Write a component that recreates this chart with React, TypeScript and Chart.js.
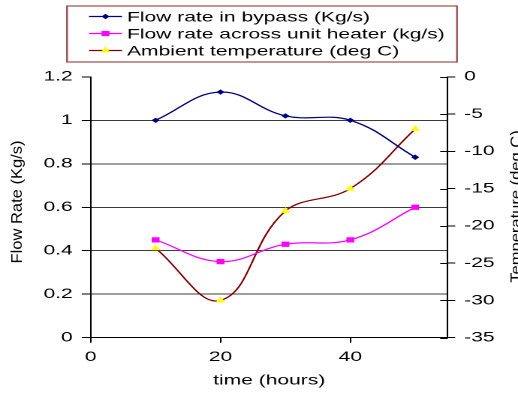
import React, { useEffect, useRef } from 'react';
import { Chart, registerables } from 'chart.js';

Chart.register(...registerables);

// ---- data ----
const times = [10, 20, 30, 40, 50];
const bypassFlow = [1.0, 1.13, 1.02, 1.0, 0.83];
const heaterFlow = [0.45, 0.35, 0.43, 0.45, 0.6];
const ambientTemp = [-23, -30, -18, -15, -7];
const seriesLabels = [
  'Flow rate in bypass (Kg/s)',
  'Flow rate across unit heater (kg/s)',
  'Ambient temperature (deg C)',
];
const xTicks = [0, 20, 40];
const flowTicks = [0, 0.2, 0.4, 0.6, 0.8, 1, 1.2];
const tempTicks = [-35, -30, -25, -20, -15, -10, -5, 0];
const xTitle = 'time (hours)';
const leftTitle = 'Flow Rate (Kg/s)';
const rightTitle = 'Temperature (deg C)';

// ---- layout / style ----
const W = 345;
const H = 397;
const SX = 518 / W; // horizontal stretch of the reference picture
const FONT = '"Liberation Sans", Arial, Helvetica, sans-serif';

function drawMarker(ctx: CanvasRenderingContext2D, style: string, x: number, y: number, r: number, color: string) {
  ctx.beginPath();
  if (style === 'rectRot') {
    ctx.moveTo(x - r, y);
    ctx.lineTo(x, y - r);
    ctx.lineTo(x + r, y);
    ctx.lineTo(x, y + r);
  } else if (style === 'rect') {
    const s = Math.SQRT1_2 * r;
    ctx.rect(x - s, y - s, 2 * s, 2 * s);
  } else {
    ctx.moveTo(x, y - r);
    ctx.lineTo(x + 0.866 * r, y + 0.5 * r);
    ctx.lineTo(x - 0.866 * r, y + 0.5 * r);
  }
  ctx.closePath();
  ctx.fillStyle = color;
  ctx.fill();
}

const overlayPlugin = {
  id: 'overlay',
  afterDraw(chart: any) {
    const ctx: CanvasRenderingContext2D = chart.ctx;
    const ca = chart.chartArea;
    ctx.save();
    // inner half of the right-axis tick marks
    const y1 = chart.scales.y1;
    ctx.strokeStyle = '#000';
    ctx.lineWidth = 1;
    y1.ticks.forEach((t: any) => {
      const py = Math.round(y1.getPixelForValue(t.value)) + 0.5;
      ctx.beginPath();
      ctx.moveTo(ca.right - 5, py);
      ctx.lineTo(ca.right, py);
      ctx.stroke();
    });
    // legend box
    const lx = 67 / SX;
    const rx = 457 / SX;
    ctx.strokeStyle = '#a24d4d';
    ctx.lineWidth = 1.2;
    ctx.strokeRect(lx, 6, rx - lx, 56);
    chart.data.datasets.forEach((ds: any, i: number) => {
      const y = 16.5 + i * 17;
      const x0 = 89 / SX;
      const x1 = 122 / SX;
      ctx.strokeStyle = ds.borderColor;
      ctx.lineWidth = 1.3;
      ctx.beginPath();
      ctx.moveTo(x0, y);
      ctx.lineTo(x1, y);
      ctx.stroke();
      drawMarker(ctx, ds.pointStyle, (x0 + x1) / 2, y, ds.pointRadius, ds.pointBackgroundColor);
      ctx.fillStyle = '#000';
      ctx.font = `14px ${FONT}`;
      ctx.textAlign = 'left';
      ctx.textBaseline = 'middle';
      ctx.fillText(ds.label, 127 / SX, y + 1);
    });
    // rotated axis titles
    ctx.font = `10px ${FONT}`;
    ctx.fillStyle = '#000';
    ctx.textAlign = 'center';
    ctx.textBaseline = 'middle';
    const k = 123 / ctx.measureText(leftTitle).width;
    const rot = (text: string, cx: number, cy: number) => {
      ctx.save();
      ctx.translate(cx, cy);
      ctx.rotate(-Math.PI / 2);
      ctx.scale(k, 1);
      ctx.fillText(text, 0, 0);
      ctx.restore();
    };
    rot(leftTitle, 17.5 / SX, 202);
    rot(rightTitle, 516.5 / SX, 206.5);
    ctx.restore();
  },
};

export default function App() {
  const ref = useRef<HTMLCanvasElement>(null);

  useEffect(() => {
    const canvas = ref.current;
    if (!canvas) return;
    const tickFont = { family: FONT, size: 14 };
    const chart = new Chart(canvas, {
      type: 'line',
      data: {
        datasets: [
          {
            label: seriesLabels[0],
            data: times.map((t, i) => ({ x: t, y: bypassFlow[i] })),
            yAxisID: 'y',
            borderColor: '#000080',
            backgroundColor: '#000080',
            borderWidth: 1.2,
            pointStyle: 'rectRot',
            pointRadius: 2.7,
            pointBorderWidth: 0,
            pointBackgroundColor: '#000080',
            tension: 0.4,
          },
          {
            label: seriesLabels[1],
            data: times.map((t, i) => ({ x: t, y: heaterFlow[i] })),
            yAxisID: 'y',
            borderColor: '#ff00ff',
            backgroundColor: '#ff00ff',
            borderWidth: 1.2,
            pointStyle: 'rect',
            pointRadius: 3.7,
            pointBorderWidth: 0,
            pointBackgroundColor: '#ff00ff',
            tension: 0.4,
          },
          {
            label: seriesLabels[2],
            data: times.map((t, i) => ({ x: t, y: ambientTemp[i] })),
            yAxisID: 'y1',
            borderColor: '#800000',
            backgroundColor: '#ffff00',
            borderWidth: 1.2,
            pointStyle: 'triangle',
            pointRadius: 3.8,
            pointBorderWidth: 0,
            pointBackgroundColor: '#ffff00',
            tension: 0.4,
          },
        ],
      },
      options: {
        responsive: false,
        devicePixelRatio: 2,
        animation: false,
        events: [],
        layout: { padding: { top: 76.8, left: 0, right: 0, bottom: 0 } },
        plugins: {
          legend: { display: false },
          tooltip: { enabled: false },
        },
        scales: {
          x: {
            type: 'linear',
            position: 'bottom',
            min: 0,
            max: 55,
            afterBuildTicks: (s: any) => {
              s.ticks = xTicks.map((v) => ({ value: v }));
            },
            afterFit: (s: any) => {
              s.height = H - 337.7;
            },
            grid: { drawOnChartArea: false, drawTicks: true, tickLength: 5, color: '#000' },
            border: { color: '#000', width: 1 },
            ticks: { color: '#000', font: tickFont, padding: 6, maxRotation: 0, autoSkip: false },
            title: {
              display: true,
              text: xTitle,
              color: '#000',
              font: tickFont,
              padding: { top: 0, bottom: 8 },
            },
          },
          y: {
            type: 'linear',
            position: 'left',
            min: 0,
            max: 1.2,
            afterBuildTicks: (s: any) => {
              s.ticks = flowTicks.map((v) => ({ value: v }));
            },
            afterFit: (s: any) => {
              s.width = 90.7 / SX;
            },
            grid: {
              color: (c: any) => (c.tick && c.tick.value >= 1.19 ? 'rgba(0,0,0,0)' : '#3c3c3c'),
              tickColor: '#000',
              tickLength: 6,
            },
            border: { color: '#000', width: 1 },
            ticks: {
              color: '#000',
              font: tickFont,
              padding: 6,
              autoSkip: false,
              callback: (v: any) => String(Number(Number(v).toFixed(1))),
            },
          },
          y1: {
            type: 'linear',
            position: 'right',
            min: -35,
            max: 0,
            afterBuildTicks: (s: any) => {
              s.ticks = tempTicks.map((v) => ({ value: v }));
            },
            afterFit: (s: any) => {
              s.width = W - 447.7 / SX;
            },
            grid: { drawOnChartArea: false, tickLength: 5, color: '#000' },
            border: { color: '#000', width: 1 },
            ticks: { color: '#000', font: tickFont, padding: 6, autoSkip: false },
          },
        },
      } as any,
      plugins: [overlayPlugin],
    });
    return () => chart.destroy();
  }, []);

  return (
    <div
      style={{
        position: 'fixed',
        left: 0,
        top: 0,
        width: 518,
        height: 397,
        overflow: 'hidden',
        background: '#fff',
      }}
    >
      <div style={{ width: W, height: H, transform: `scaleX(${SX})`, transformOrigin: '0 0' }}>
        <canvas ref={ref} width={W} height={H} style={{ width: `${W}px`, height: `${H}px`, display: 'block' }} />
      </div>
    </div>
  );
}
